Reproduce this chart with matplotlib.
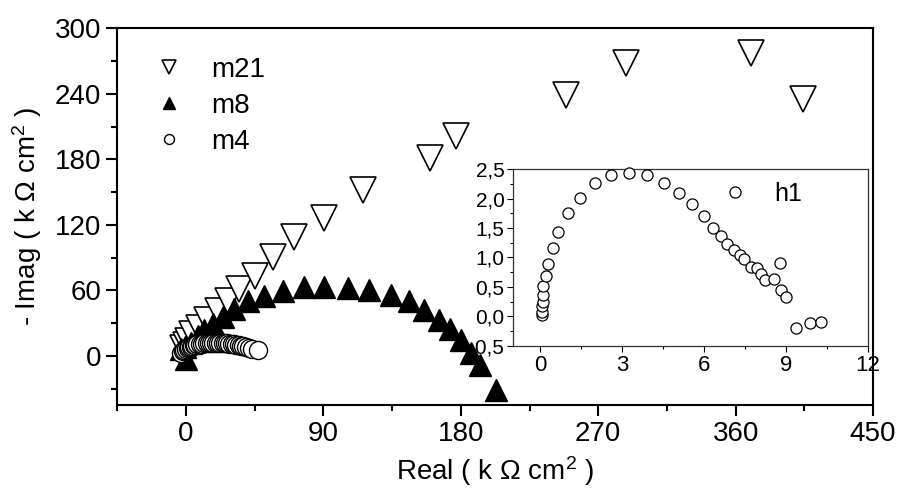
import matplotlib
matplotlib.use('Agg')
import matplotlib.pyplot as plt
from matplotlib.ticker import MultipleLocator, FuncFormatter

plt.rcParams['font.family'] = ['Liberation Sans', 'DejaVu Sans']
plt.rcParams['mathtext.fontset'] = 'custom'
plt.rcParams['mathtext.rm'] = 'Liberation Sans'
plt.rcParams['mathtext.it'] = 'Liberation Sans'

# m21 (open down triangles)
m21_x = [-2, 0, 1.5, 4, 8.7, 14, 20.7, 27.3, 35, 44.9, 56.8, 71, 90.7, 115.8, 159.7, 177, 249, 288.5, 369.8, 404]
m21_y = [7, 10, 14, 19.7, 25.4, 33, 41, 50.6, 60.8, 73.6, 90.4, 108.7, 126, 151.6, 181, 201, 239, 268, 277.7, 235.5]

# m8 (filled up triangles)
m8_x = [-3, -0.5, 0, 3.3, 7.6, 12, 17.5, 24, 31.7, 40.4, 51.3, 63.3, 77.6, 90.7, 106, 120, 134.4, 146, 156, 166,
        172.7, 180.3, 187, 192.3, 203.3]
m8_y = [6, 8, -3, 12, 18, 24, 29, 36, 43, 50, 55, 59, 63, 63, 62, 60, 56, 50.7, 42, 33,
        25, 14.7, 3, -8, -31]

# m4 (open circles)
m4_x = [-3, -2, -1, 0, 1, 2, 3, 4, 5, 6, 7.5, 9, 10.5, 12, 13.5, 15, 16.5, 18, 19.5, 21, 22.5, 24,
        25.5, 27, 28.5, 30, 31.5, 33, 34.5, 36, 37.5, 39, 41, 43, 47]
m4_y = [3, 4, 5, 6, 7, 7.8, 8.5, 9, 9.5, 10, 10.5, 11, 11.3, 11.6, 11.8, 12, 12, 12, 12, 12, 11.9, 11.8,
        11.6, 11.4, 11.2, 11, 10.6, 10.2, 9.8, 9.3, 8.7, 8, 7.2, 6.3, 5]

# h1 (inset, open circles)
h1_x = [0.08, 0.08, 0.08, 0.1, 0.1, 0.12, 0.2, 0.28, 0.47, 0.67, 1.02, 1.47, 2.0, 2.61, 3.26, 3.92, 4.54,
        5.08, 5.58, 6.0, 6.32, 6.61, 6.85, 7.1, 7.32, 7.47, 7.71, 7.96, 8.09, 8.24, 8.57, 8.79, 8.81,
        9.01, 9.38, 9.87, 10.29]
h1_y = [0.03, 0.08, 0.17, 0.25, 0.37, 0.51, 0.68, 0.89, 1.16, 1.44, 1.75, 2.02, 2.26, 2.40, 2.44, 2.40, 2.27,
        2.09, 1.91, 1.70, 1.51, 1.37, 1.23, 1.12, 1.05, 0.97, 0.84, 0.82, 0.72, 0.61, 0.63, 0.90, 0.45,
        0.33, -0.20, -0.12, -0.10]

fig = plt.figure(figsize=(8.98, 4.9), dpi=100)
ax = fig.add_axes([0.1306, 0.1735, 0.8416, 0.7687])

ax.plot(m21_x, m21_y, 'v', ms=19, mfc='white', mec='black', mew=1.2, label='m21', zorder=3)
ax.plot(m8_x, m8_y, '^', ms=16, mfc='black', mec='black', mew=1, label='m8', zorder=4)
ax.plot(m4_x, m4_y, 'o', ms=13, mfc='white', mec='black', mew=1, label='m4', zorder=5)

ax.set_xlim(-45, 450)
ax.set_ylim(-45, 300)
ax.xaxis.set_major_locator(MultipleLocator(90))
ax.xaxis.set_minor_locator(MultipleLocator(45))
ax.yaxis.set_major_locator(MultipleLocator(60))
ax.yaxis.set_minor_locator(MultipleLocator(30))
ax.tick_params(which='both', direction='out', width=1.5, labelsize=20, top=False, right=False)
ax.tick_params(which='major', length=8)
ax.tick_params(which='minor', length=4.5)
for s in ax.spines.values():
    s.set_linewidth(1.5)

ax.set_xlabel(r'Real ( k $\Omega$ cm$^2$ )', fontsize=20, labelpad=5)
ax.set_ylabel(r'- Imag ( k $\Omega$ cm$^2$ )', fontsize=20, labelpad=8)

ax.legend(loc='upper left', frameon=False, fontsize=20, markerscale=0.55,
          handlelength=1.66, handletextpad=0.68, borderaxespad=0.58, borderpad=0.45,
          labelspacing=0.36)

# inset
ins = fig.add_axes([0.571, 0.2945, 0.3953, 0.36])
ins.plot(h1_x, h1_y, 'o', ms=8, mfc='white', mec='black', mew=0.9, label='h1', clip_on=False, zorder=5)
ins.set_xlim(-1, 12)
ins.set_ylim(-0.5, 2.5)
ins.xaxis.set_major_locator(MultipleLocator(3))
ins.xaxis.set_minor_locator(MultipleLocator(1.5))
ins.yaxis.set_major_locator(MultipleLocator(0.5))
ins.yaxis.set_minor_locator(MultipleLocator(0.25))
ins.yaxis.set_major_formatter(FuncFormatter(lambda v, p: ('%.1f' % v).replace('.', ',')))
ins.tick_params(which='both', direction='out', width=0.8, labelsize=15, top=False, right=False, pad=2)
ins.tick_params(axis='x', labelsize=16, pad=3)
ins.tick_params(which='major', length=4)
ins.tick_params(which='minor', length=2.5)
for s in ins.spines.values():
    s.set_linewidth(0.9)
    s.set_color('#333333')
ins.legend(loc='center left', bbox_to_anchor=(0.59, 0.86), frameon=False, fontsize=18,
           handletextpad=1.1, handlelength=1.0, borderaxespad=0, borderpad=0)

fig.savefig('out.png', dpi=100)
